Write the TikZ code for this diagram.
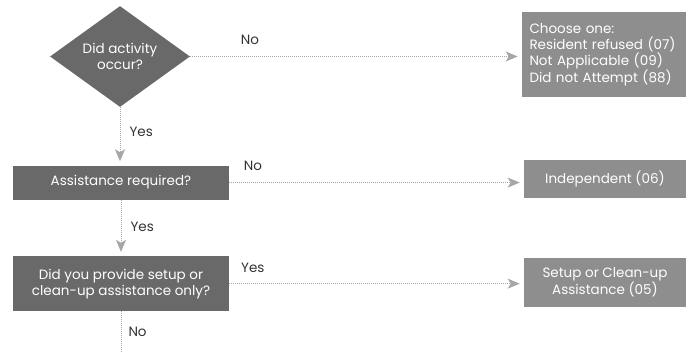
\documentclass[tikz,border=0pt]{standalone}
\usepackage{fontspec}
\setmainfont{Poppins}
\usepackage{tikz}
\usetikzlibrary{shapes.geometric,arrows.meta,positioning}
\definecolor{boxdark}{HTML}{696969}
\definecolor{boxlight}{HTML}{8E8E8E}
\definecolor{linkgray}{HTML}{A6A6A6}
\definecolor{labelgray}{HTML}{333333}
\tikzstyle{decision} = [diamond, fill=boxdark, text=white, align=center, inner sep=0pt, minimum width=140pt, minimum height=97pt]
\tikzstyle{question} = [rectangle, fill=boxdark, text=white, align=center, minimum width=216pt]
\tikzstyle{outcome} = [rectangle, fill=boxlight, text=white, align=center, minimum width=162pt]
\tikzstyle{answer} = [text=labelgray, inner sep=1pt]

\begin{document}
\begin{tikzpicture}[x=1pt,y=1pt,font=\fontsize{13.5}{16}\selectfont,
  every edge/.style={draw=linkgray, densely dotted, line width=1pt, -{Stealth[length=12pt,width=10pt,inset=3pt,fill=linkgray]}, shorten >=4pt},
  semithick]
  \useasboundingbox (0,0) rectangle (689,353);
  \node[decision] (activity) at (120,296.5) {Did activity\\occur?};
  \node[outcome, align=left, text width=149pt, inner xsep=7.5pt, minimum height=85pt] (choose) at (604,298.5) {Choose one:\\Resident refused (07)\\Not Applicable (09)\\Did not Attempt (88)};
  \node[question, minimum height=34pt] (assist) [below=58pt of activity.south, anchor=north, xshift=1pt] {Assistance required?};
  \node[outcome, minimum height=38pt] (indep) at (605,174) {Independent (06)};
  \node[question, minimum height=55pt] (setupq) [below=56pt of assist.south, anchor=north] {Did you provide setup or\\clean-up assistance only?};
  \node[outcome, minimum height=49pt] (setupa) at (605,70.5) {Setup or Clean-up\\Assistance (05)};
  \coordinate (out) at (setupq.south |- 0,0);

  \path (activity.east) edge node[answer, pos=0.18, above=10pt] {No} (activity.east -| choose.west);
  \path (activity.south) edge node[answer, pos=0.43, right=8pt] {Yes} (activity.south |- assist.north);
  \path (assist.east) edge node[answer, pos=0.08, above=10pt] {No} (assist.east -| indep.west);
  \path (assist.south) edge node[answer, pos=0.49, right=8pt] {Yes} (setupq.north);
  \path (setupq.east) edge node[answer, pos=0.08, above=10pt] {Yes} (setupq.east -| setupa.west);
  \draw[draw=linkgray, densely dotted, line width=1pt] (setupq.south) -- node[answer, right=6pt] {No} (out);
\end{tikzpicture}
\end{document}
